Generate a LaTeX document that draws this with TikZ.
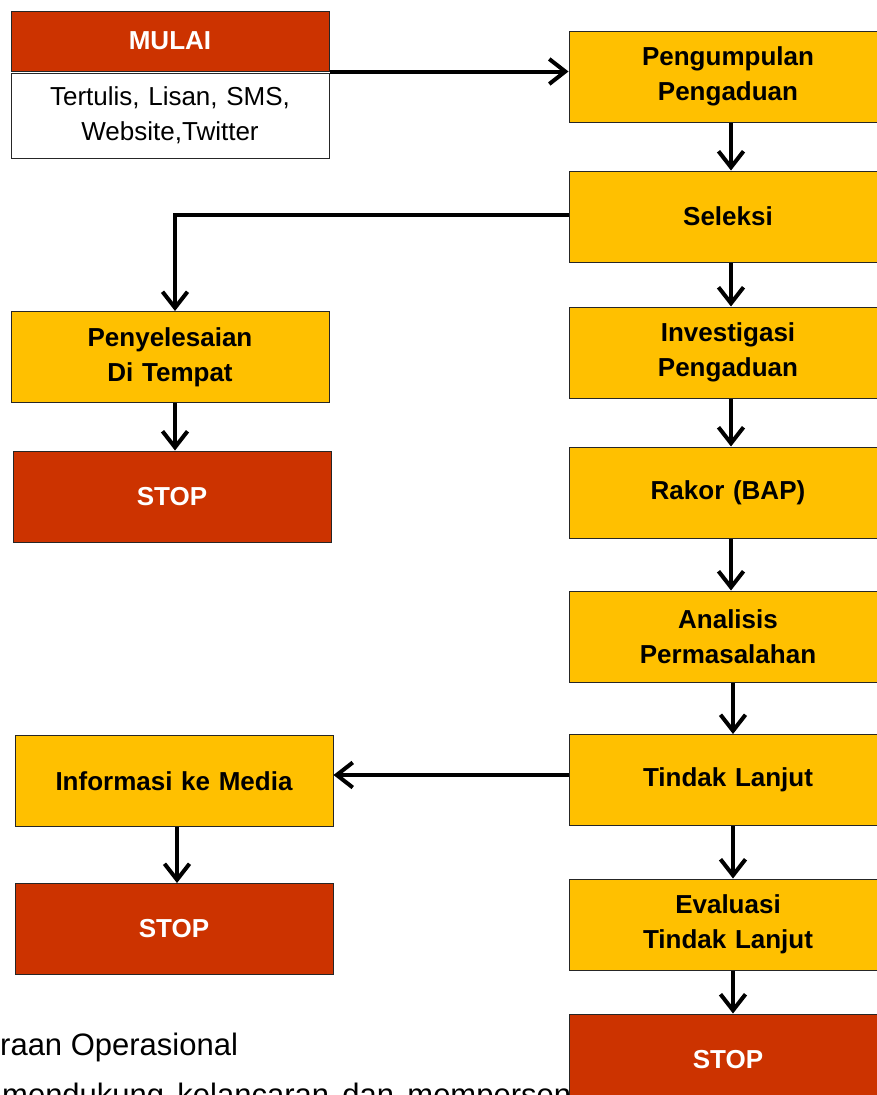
\documentclass[tikz,border=0pt]{standalone}
\usepackage{fontspec}
\setmainfont{Liberation Sans}
\usetikzlibrary{arrows.meta,positioning}

\definecolor{stopred}{RGB}{204,51,0}
\definecolor{stepyellow}{RGB}{255,192,0}

\tikzset{
  boxbase/.style={draw=black!85, line width=1pt, minimum width=318pt,
    inner sep=0pt, align=center, text width=310pt,
    font=\fontsize{26}{35}\selectfont\bfseries},
  stepbox/.style={boxbase, fill=stepyellow, minimum height=91pt},
  stopbox/.style={boxbase, fill=stopred, text=white, minimum height=91pt},
  channelbox/.style={boxbase, fill=white, minimum height=85pt,
    font=\fontsize{26}{35}\selectfont},
  flow/.style={line width=4pt, -{Straight Barb[length=16pt,width=25pt,line width=4pt]}}
}

\begin{document}
\begin{tikzpicture}[x=1pt,y=-1pt]
\useasboundingbox (0,0) rectangle (877,1095);
\clip (0,0) rectangle (877,1095);

% running text of the page behind the chart
\node[anchor=base west, inner sep=0pt, font=\fontsize{31}{46}\selectfont]
  (para1) at (0,1055) {raan Operasional};
\node[anchor=base west, inner sep=0pt, text width=569pt,
  font=\fontsize{31}{46}\selectfont]
  (para2) at (2,1105) {mendukung\hfill kelancaran\hfill dan\hfill mempersen};

% start and complaint channels
\node[boxbase, fill=stopred, text=white, minimum height=60pt] (mulai) at (170,41) {MULAI};
\node[channelbox] (kanal) at (170,115.5) {Tertulis, Lisan, SMS,\\Website,Twitter};

% main column
\node[stepbox] (kumpul) at (728,76.5) {Pengumpulan\\Pengaduan};
\node[stepbox] (seleksi) at (728,216.5) {Seleksi};
\node[stepbox] (invest) at (728,352.5) {Investigasi\\Pengaduan};
\node[stepbox] (rakor) at (728,492.5) {Rakor (BAP)};
\node[stepbox] (analisis) at (728,636.5) {Analisis\\Permasalahan};
\node[stepbox] (tindak) at (728,780) {Tindak Lanjut};
\node[stepbox] (evaluasi) at (728,924.5) {Evaluasi\\Tindak Lanjut};
\node[stopbox] (stopc) at (728,1059.5) {STOP};

% side branches
\node[stepbox] (selesai) at (170,357) {Penyelesaian\\Di Tempat};
\node[stopbox] (stopa) at (172,496.5) {STOP};
\node[stepbox] (info) at (174,781) {Informasi ke Media};
\node[stopbox] (stopb) at (174,929) {STOP};

% connectors
\coordinate (mulaiout) at (mulai.south east);
\draw[flow] (mulaiout) -- (kumpul.west |- mulaiout);

\draw[flow] ([xshift=3pt]kumpul.south) -- ([xshift=3pt]seleksi.north);
\draw[flow] ([xshift=3pt]seleksi.south) -- ([xshift=3pt]invest.north);
\draw[flow] ([xshift=3pt]invest.south) -- ([xshift=3pt]rakor.north);
\draw[flow] ([xshift=3pt]rakor.south) -- ([xshift=3pt]analisis.north);
\draw[flow] ([xshift=5pt]analisis.south) -- ([xshift=5pt]tindak.north);
\draw[flow] ([xshift=5pt]tindak.south) -- ([xshift=5pt]evaluasi.north);
\draw[flow] ([xshift=5pt]evaluasi.south) -- ([xshift=5pt]stopc.north);

\draw[flow] ([yshift=1.5pt]seleksi.west) -| ([xshift=5pt]selesai.north);
\draw[flow] ([xshift=5pt]selesai.south) -- ([xshift=5pt]selesai.south |- stopa.north);

\draw[flow] ([yshift=5pt]tindak.west) -- ([yshift=5pt]tindak.west -| info.east);
\draw[flow] ([xshift=3pt]info.south) -- ([xshift=3pt]info.south |- stopb.north);
\end{tikzpicture}
\end{document}
